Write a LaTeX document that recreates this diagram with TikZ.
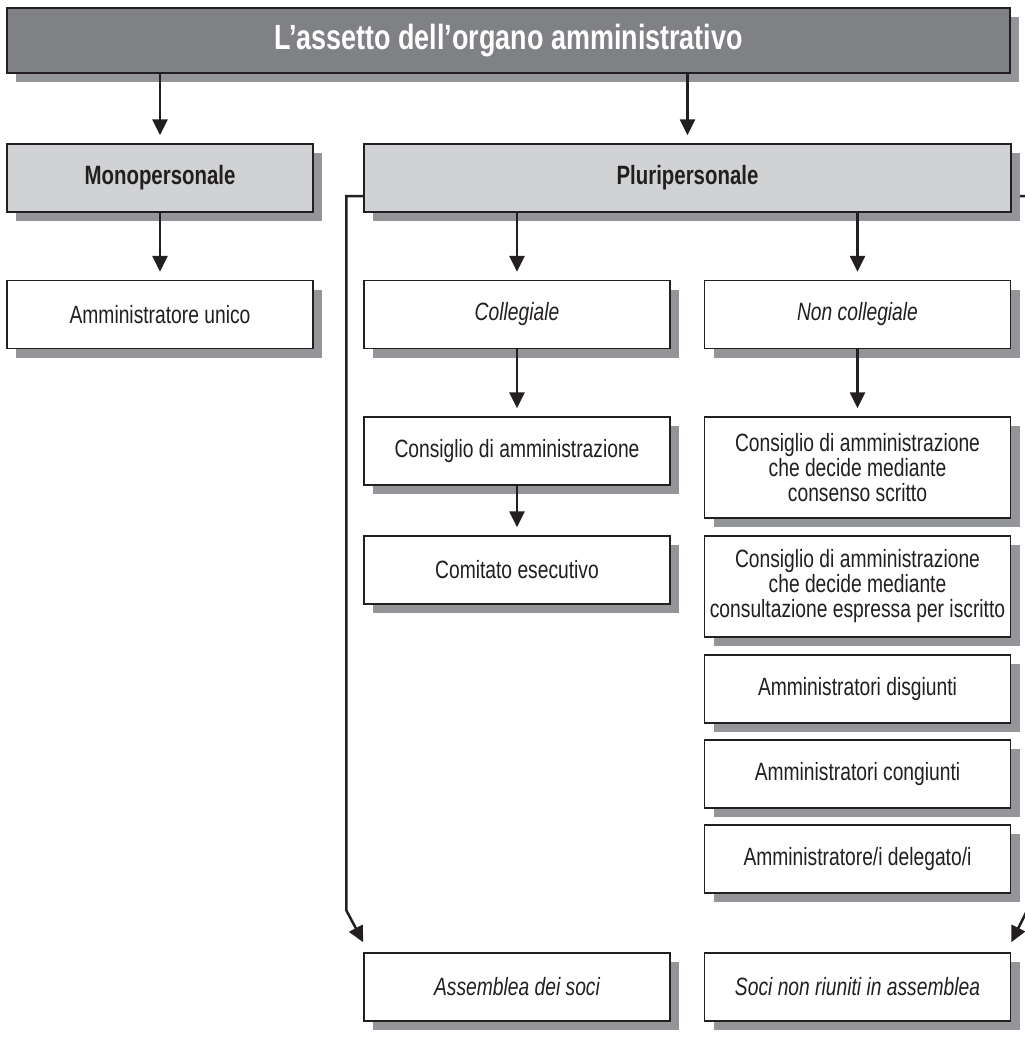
\documentclass[tikz,border=0pt]{standalone}
\usepackage{fontspec}
\setmainfont[FakeStretch=0.77]{Liberation Sans}
\usetikzlibrary{shadows,arrows.meta}
\definecolor{titlegray}{HTML}{808184}
\definecolor{lightbox}{HTML}{D1D2D4}
\definecolor{shadowgray}{HTML}{939598}
\definecolor{ink}{HTML}{231F20}
\pgfdeclarelayer{bg}
\pgfsetlayers{bg,main}
\begin{document}
\begin{tikzpicture}[x=1pt,y=-1pt,
  box/.style={draw=ink, line width=1.4pt, fill=white, inner sep=0pt, align=center,
    text=ink, font=\fontsize{25}{25}\selectfont,
    drop shadow={shadow xshift=9pt, shadow yshift=-9pt, fill=shadowgray, opacity=1}},
  lbox/.style={box, minimum width=306pt, minimum height=68pt},
  tallbox/.style={box, minimum width=306pt, minimum height=101pt},
  greybox/.style={box, fill=lightbox, minimum height=68pt, font=\fontsize{26.5}{27}\selectfont\bfseries},
  titlebox/.style={box, fill=titlegray, text=white, font=\fontsize{35}{37}\selectfont\bfseries},
  arr/.style={draw=ink, line width=2.5pt, -{Triangle[length=16pt,width=15pt]}},
  conn/.style={draw=ink, line width=2.5pt, -{Triangle[length=16pt,width=15pt]}}
]
\useasboundingbox (0,0) rectangle (1025,1047);

\node[titlebox, minimum width=1003pt, minimum height=65pt] (title) at (508.5,40.5) {L’assetto dell’organo amministrativo};

\node[greybox, minimum width=306pt] (mono) at (160,178) {Monopersonale};
\node[greybox, minimum width=647pt] (pluri) at (687.5,178) {Pluripersonale};

\node[lbox] (unico) at (160,314.5) {Amministratore unico};
\node[lbox] (coll) at (517,314.5) {\itshape Collegiale};
\node[lbox] (ncoll) at (857.5,314.5) {\itshape Non collegiale};

\node[lbox] (cda) at (517,451) {Consiglio di amministrazione};
\node[lbox] (comit) at (517,570) {Comitato esecutivo};

\node[tallbox] (nc1) at (857.5,467.5) {Consiglio di amministrazione\\che decide mediante\\consenso scritto};
\node[tallbox] (nc2) at (857.5,586.5) {Consiglio di amministrazione\\che decide mediante\\consultazione espressa per iscritto};
\node[lbox] (nc3) at (857.5,689) {Amministratori disgiunti};
\node[lbox] (nc4) at (857.5,774) {Amministratori congiunti};
\node[lbox] (nc5) at (857.5,859) {Amministratore/i delegato/i};

\node[lbox] (assem) at (517,987) {\itshape Assemblea dei soci};
\node[lbox] (soci) at (857.5,987) {\itshape Soci non riuniti in assemblea};

\draw[arr] (title.south -| mono.north) -- ([yshift=8pt]mono.north);
\draw[arr] (title.south -| pluri.north) -- ([yshift=8pt]pluri.north);
\draw[arr] (mono.south) -- ([yshift=8pt]unico.north);
\draw[arr] (pluri.south -| coll.north) -- ([yshift=8pt]coll.north);
\draw[arr] (pluri.south -| ncoll.north) -- ([yshift=8pt]ncoll.north);
\draw[arr] (coll.south) -- ([yshift=8pt]cda.north);
\draw[arr] (cda.south) -- ([yshift=8pt]comit.north);
\draw[arr] (ncoll.south) -- ([yshift=8pt]nc1.north);

\begin{pgfonlayer}{bg}
\draw[conn] ([yshift=-18pt]pluri.west) -| ([xshift=-17pt,yshift=42pt]assem.north west) -- ([yshift=10pt]assem.north west);
\draw[conn] ([yshift=-18pt]pluri.east) -| ([xshift=16pt,yshift=42pt]soci.north east) -- ([yshift=10pt]soci.north east);
\end{pgfonlayer}
\end{tikzpicture}
\end{document}
